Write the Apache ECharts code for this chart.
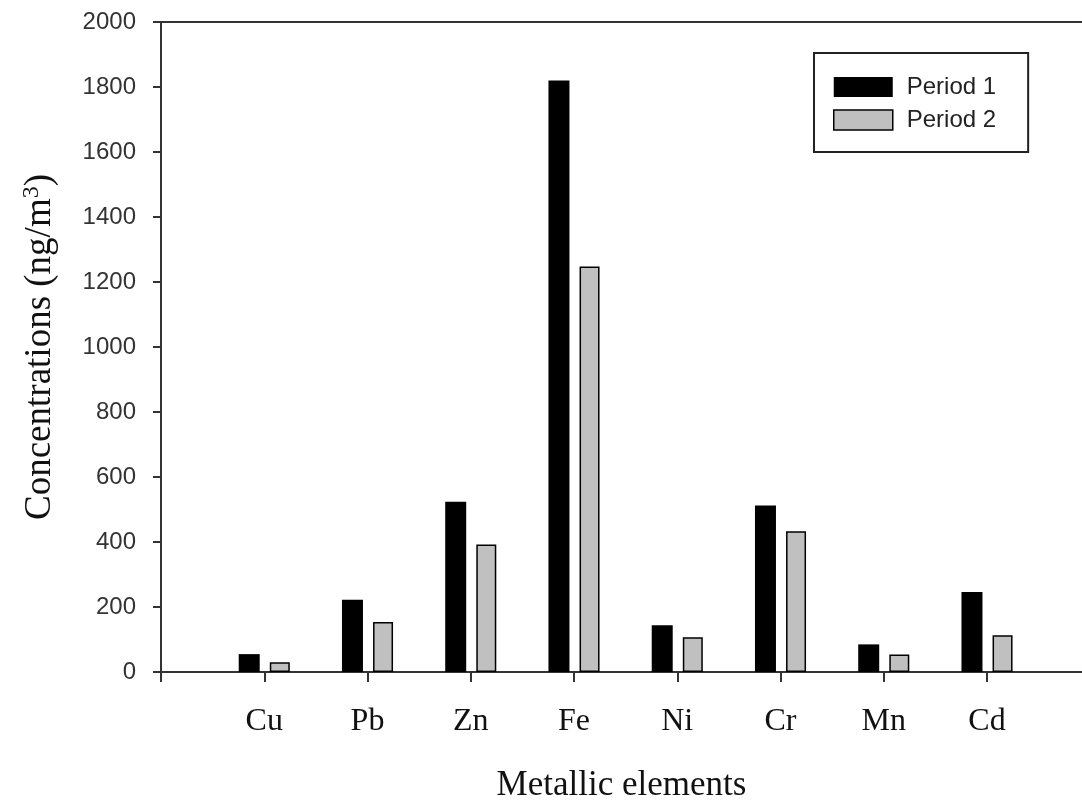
<!DOCTYPE html>
<html>
<head>
<meta charset="utf-8">
<script src="https://cdn.jsdelivr.net/npm/echarts@6/dist/echarts.min.js"></script>
<style>
html,body{margin:0;padding:0;background:#fff;}
#chart{width:1082px;height:803px;}
</style>
</head>
<body>
<div id="chart"></div>
<script>
const categories = ['Cu', 'Pb', 'Zn', 'Fe', 'Ni', 'Cr', 'Mn', 'Cd'];
const period1 = [55, 222, 524, 1820, 144, 512, 85, 246];
const period2 = [30, 154, 392, 1248, 107, 433, 54, 113];
const yTicks = [0, 200, 400, 600, 800, 1000, 1200, 1400, 1600, 1800, 2000];
const seriesNames = ['Period 1', 'Period 2'];

const toPoints = arr => arr.map((v, i) => [i + 1, v]);
const catPositions = categories.map((c, i) => i + 1);

const chart = echarts.init(document.getElementById('chart'));
const axisColor = '#333';
chart.setOption({
  animation: false,
  backgroundColor: '#fff',
  grid: { left: 161, right: 0, top: 22, bottom: 131, containLabel: false, outerBoundsMode: 'none' },
  legend: {
    orient: 'vertical',
    left: 814, top: 53,
    data: [
      { name: seriesNames[0], icon: 'rect', itemStyle: { color: '#000', borderWidth: 0 } },
      { name: seriesNames[1], icon: 'rect', itemStyle: { color: '#c0c0c0', borderColor: '#000', borderWidth: 1.5 } }
    ],
    itemWidth: 59, itemHeight: 20, itemGap: 9,
    padding: [22, 32, 20, 19],
    borderColor: '#222', borderWidth: 2,
    textStyle: { fontFamily: 'Liberation Sans', fontSize: 24, color: '#222', padding: [0, 0, 0, 9] }
  },
  xAxis: [{
    type: 'value',
    min: 0, max: 8.92, interval: 1,
    position: 'bottom',
    splitLine: { show: false },
    axisLine: { lineStyle: { color: axisColor, width: 2 } },
    axisTick: { length: 10, lineStyle: { color: axisColor, width: 2 }, customValues: [0].concat(catPositions) },
    axisLabel: {
      customValues: catPositions,
      formatter: v => (Number.isInteger(v) && v >= 1 && v <= categories.length) ? categories[v - 1] : '',
      margin: 34,
      fontFamily: 'Liberation Serif', fontSize: 32, color: '#111'
    },
    name: 'Metallic elements',
    nameLocation: 'middle',
    nameGap: 96,
    nameTextStyle: { fontFamily: 'Liberation Serif', fontSize: 35, color: '#111' }
  }, {
    type: 'value',
    min: 0, max: 8.92,
    position: 'top',
    splitLine: { show: false },
    axisLine: { show: true, lineStyle: { color: axisColor, width: 2 } },
    axisTick: { show: false },
    axisLabel: { show: false }
  }],
  yAxis: {
    type: 'value',
    min: 0, max: 2000, interval: 200,
    splitLine: { show: false },
    axisLine: { show: true, lineStyle: { color: axisColor, width: 2 } },
    axisTick: { show: true, length: 8, lineStyle: { color: axisColor, width: 2 } },
    axisLabel: { margin: 25, fontFamily: 'Liberation Sans', fontSize: 24, color: '#333', formatter: v => String(v) },
    name: 'Concentrations (ng/m{sup|3})',
    nameLocation: 'middle',
    nameGap: 101,
    nameRotate: 90,
    nameTextStyle: {
      fontFamily: 'Liberation Serif', fontSize: 37, color: '#111',
      rich: { sup: { fontFamily: 'Liberation Serif', fontSize: 24, color: '#111', verticalAlign: 'top', padding: [0, 0, 16, 0] } }
    }
  },
  series: [{
    name: seriesNames[0],
    type: 'bar',
    xAxisIndex: 0,
    data: toPoints(period1),
    barWidth: 21,
    barGap: '48%',
    itemStyle: { color: '#000', borderColor: '#000', borderWidth: 0 }
  }, {
    name: seriesNames[1],
    type: 'bar',
    xAxisIndex: 0,
    data: toPoints(period2),
    barWidth: 20,
    barGap: '48%',
    itemStyle: { color: '#c0c0c0', borderColor: '#000', borderWidth: 1.5 }
  }]
});
</script>
</body>
</html>
